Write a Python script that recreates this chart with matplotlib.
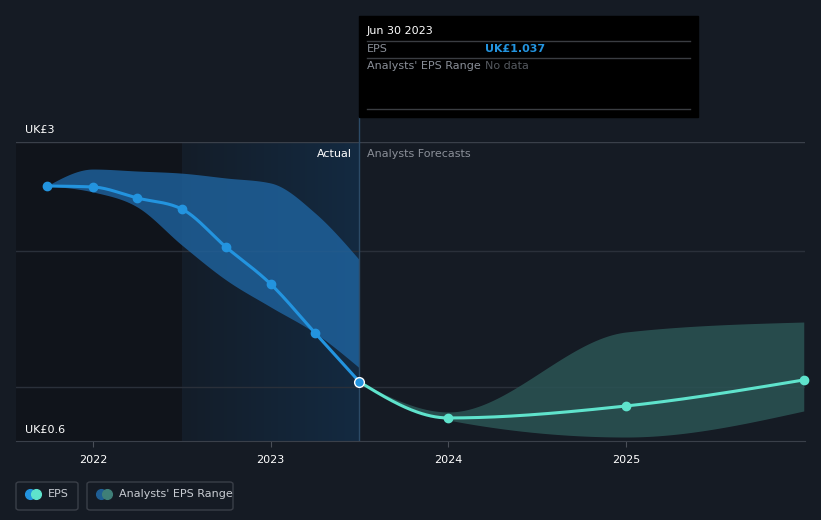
import numpy as np
import matplotlib.pyplot as plt
from matplotlib.patches import FancyBboxPatch, Rectangle
from matplotlib.colors import LinearSegmentedColormap

# EPS history (decimal years, UK£)
act_x = [2021.74, 2022.0, 2022.25, 2022.5, 2022.75, 2023.0, 2023.25, 2023.5]
act_eps = [2.647, 2.639, 2.55, 2.462, 2.155, 1.86, 1.467, 1.074]
act_hi = [2.647, 2.783, 2.767, 2.75, 2.711, 2.671, 2.43, 2.053]
act_lo = [2.647, 2.599, 2.478, 2.173, 1.892, 1.676, 1.467, 1.186]

# analyst forecasts
fc_x = [2023.5, 2024.0, 2025.0, 2026.0]
fc_eps = [1.074, 0.785, 0.881, 1.09]
fc_hi = [1.074, 0.833, 1.475, 1.555]
fc_lo = [1.074, 0.768, 0.632, 0.841]

years = [2022, 2023, 2024, 2025]
grid_vals = [2.125, 1.033]

bg = '#151b24'


def smooth(x, y, n=300):
    # monotone-x cubic, same idea as d3.curveMonotoneX (drawing only)
    x = np.asarray(x, float)
    y = np.asarray(y, float)
    h = np.diff(x)
    s = np.diff(y) / h
    m = np.zeros_like(y)
    for i in range(1, len(y) - 1):
        p = (s[i - 1] * h[i] + s[i] * h[i - 1]) / (h[i - 1] + h[i])
        m[i] = (np.sign(s[i - 1]) + np.sign(s[i])) * min(abs(s[i - 1]), abs(s[i]), 0.5 * abs(p))
    m[0] = (3 * s[0] - m[1]) / 2 if len(y) > 2 else s[0]
    m[-1] = (3 * s[-1] - m[-2]) / 2 if len(y) > 2 else s[-1]
    xs = np.linspace(x[0], x[-1], n)
    idx = np.clip(np.searchsorted(x, xs) - 1, 0, len(x) - 2)
    t = (xs - x[idx]) / h[idx]
    h00 = 2 * t**3 - 3 * t**2 + 1
    h10 = t**3 - 2 * t**2 + t
    h01 = -2 * t**3 + 3 * t**2
    h11 = t**3 - t**2
    ys = h00 * y[idx] + h10 * h[idx] * m[idx] + h01 * y[idx + 1] + h11 * h[idx] * m[idx + 1]
    return xs, ys


fig = plt.figure(figsize=(8.21, 5.2), dpi=100, facecolor=bg)
ax = fig.add_axes([16 / 821, 1 - 441 / 520, 789 / 821, 299 / 520])
ax.set_facecolor(bg)
ax.set_xlim(2021.567, 2026.007)
ax.set_ylim(0.6, 3.0)

# past shading
ax.axvspan(2021.567, 2022.5, color='#10141b', zorder=0)
grad = np.linspace(0, 1, 100).reshape(1, -1)
ax.imshow(grad, extent=[2022.5, 2023.5, 0.6, 3.0], aspect='auto', zorder=0.5,
          cmap=LinearSegmentedColormap.from_list('g', ['#141d29', '#132a41']))

for g in grid_vals:
    ax.axhline(g, color='#2a303a', lw=1, zorder=1)
ax.axhline(3.0, color='#3a404a', lw=1, zorder=1)

# ranges
xs, hi = smooth(act_x, act_hi)
_, lo = smooth(act_x, act_lo)
ax.fill_between(xs, lo, hi, color='#1f64a0', alpha=0.8, lw=0, zorder=2)
xs, hi = smooth(fc_x, fc_hi)
_, lo = smooth(fc_x, fc_lo)
ax.fill_between(xs, lo, hi, color='#2b5454', alpha=0.85, lw=0, zorder=2)

ax.axvline(2023.5, color='#2c4a66', lw=1, zorder=3)

xs, ys = smooth(act_x, act_eps)
ax.plot(xs, ys, color='#2394df', lw=2.2, zorder=4)
ax.plot(act_x[:-1], act_eps[:-1], 'o', color='#2394df', ms=6, zorder=5)
xs, ys = smooth(fc_x, fc_eps)
ax.plot(xs, ys, color='#5fe3cc', lw=2.2, zorder=4)
ax.plot(fc_x[1:], fc_eps[1:], 'o', color='#5fe3cc', ms=6, zorder=5, clip_on=False)
ax.plot(act_x[-1], act_eps[-1], 'o', color='#2394df', mec='white', mew=1, ms=7, zorder=6)

ax.text(2023.46, 2.9, 'Actual', color='white', fontsize=8, ha='right', va='center')
ax.text(2023.545, 2.9, 'Analysts Forecasts', color='#8a8f98', fontsize=8, ha='left', va='center')

ax.set_xticks(years)
ax.set_xticklabels([str(y) for y in years])
ax.set_yticks([])
ax.tick_params(axis='x', colors='#4a4f58', labelcolor='white', length=4, labelsize=8, pad=6)
for s in ['top', 'right', 'left']:
    ax.spines[s].set_visible(False)
ax.spines['bottom'].set_color('#3a404a')

# y labels
fig.text(25 / 821, 1 - 130 / 520, 'UK£3', color='white', fontsize=8, va='center')
fig.text(25 / 821, 1 - 430 / 520, 'UK£0.6', color='white', fontsize=8, va='center')

# tooltip box
fig.patches.append(Rectangle((359 / 821, 1 - 117 / 520), 339 / 821, 101 / 520,
                             transform=fig.transFigure, color='black', zorder=10))
fig.add_artist(plt.Line2D([359 / 821, 359 / 821], [1 - 142 / 520, 1 - 117 / 520],
                          color='#2c4a66', lw=1))
for yl in [41, 58, 109]:
    fig.add_artist(plt.Line2D([367 / 821, 690 / 821], [1 - yl / 520] * 2, color='#3a3d42', lw=1, zorder=11))
fig.text(367 / 821, 1 - 31 / 520, 'Jun 30 2023', color='white', fontsize=8, va='center', zorder=12)
fig.text(367 / 821, 1 - 49 / 520, 'EPS', color='#8a8f98', fontsize=8, va='center', zorder=12)
fig.text(485 / 821, 1 - 49 / 520, 'UK£1.037', color='#2394df', fontsize=8, va='center',
         fontweight='bold', zorder=12)
fig.text(367 / 821, 1 - 66 / 520, "Analysts' EPS Range", color='#8a8f98', fontsize=8, va='center', zorder=12)
fig.text(485 / 821, 1 - 66 / 520, 'No data', color='#55595f', fontsize=8, va='center', zorder=12)


# legend
def legend_box(x0, x1, c1, c2, label):
    fig.patches.append(FancyBboxPatch((x0 / 821, 1 - 510 / 520), (x1 - x0) / 821, 28 / 520,
                                      boxstyle='round,pad=0,rounding_size=0.004',
                                      transform=fig.transFigure, fc='none', ec='#3a3f48', lw=1))
    cy = 1 - 494 / 520
    fig.add_artist(plt.Line2D([(x0 + 14) / 821], [cy], marker='o', ms=7, color=c1, lw=0))
    fig.add_artist(plt.Line2D([(x0 + 20) / 821], [cy], marker='o', ms=7, color=c2, lw=0))
    fig.text((x0 + 32) / 821, cy, label, color='#c8ccd2', fontsize=8, va='center')


legend_box(16, 78, '#2394df', '#5fe3cc', 'EPS')
legend_box(87, 233, '#1f5e94', '#3f7f78', "Analysts' EPS Range")

plt.savefig('out.png', dpi=100, facecolor=bg)
